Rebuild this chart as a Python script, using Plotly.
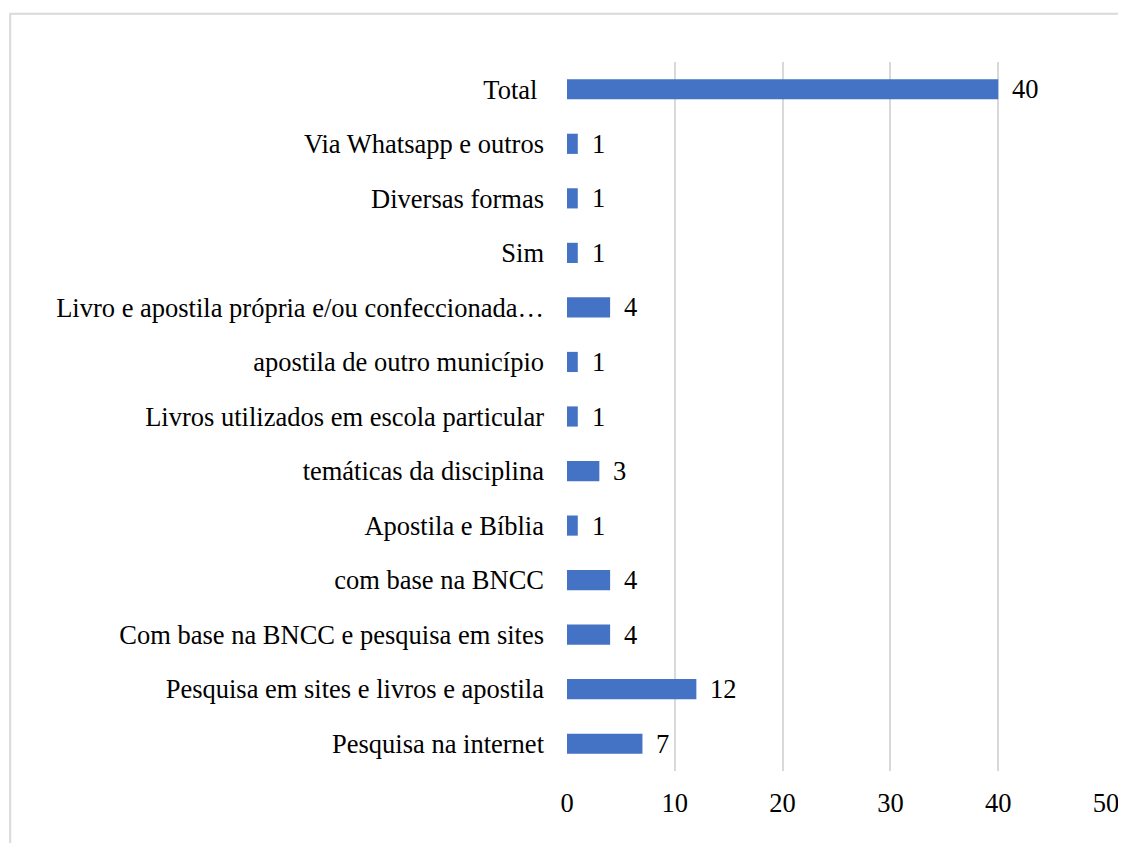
import plotly.graph_objects as go

# categories listed bottom to top, as drawn
categories = [
    "Pesquisa na internet",
    "Pesquisa em sites e livros e apostila",
    "Com base na BNCC e pesquisa em sites",
    "com base na BNCC",
    "Apostila e Bíblia",
    "temáticas da disciplina",
    "Livros utilizados em escola particular",
    "apostila de outro município",
    "Livro e apostila própria e/ou confeccionada…",
    "Sim",
    "Diversas formas",
    "Via Whatsapp e outros",
    "Total ",
]
values = [7, 12, 4, 4, 1, 3, 1, 1, 4, 1, 1, 1, 40]
x_ticks = [0, 10, 20, 30, 40, 50]

FONT = "Liberation Serif, Times New Roman, serif"
FSIZE = 26.5

fig = go.Figure()

fig.add_trace(go.Bar(
    x=values,
    y=categories,
    orientation='h',
    marker=dict(color='#4472C4', line=dict(width=0)),
    width=0.37,
    hoverinfo='x+y',
))

# value labels to the right of each bar
for cat, val in zip(categories, values):
    fig.add_annotation(
        x=val, y=cat,
        text=str(val),
        showarrow=False,
        xanchor='left',
        xshift=12,
        font=dict(family=FONT, size=FSIZE, color='#000000'),
    )

# light frame of the chart area
fig.add_shape(
    type='rect', xref='paper', yref='paper',
    x0=-1.033, x1=1.2, y0=-0.3, y1=1.068,
    line=dict(color='#d9d9d9', width=2),
    fillcolor='rgba(0,0,0,0)',
    layer='below',
)

fig.update_layout(
    width=1126,
    height=843,
    margin=dict(l=559, r=28, t=54, b=80),
    paper_bgcolor='white',
    plot_bgcolor='white',
    showlegend=False,
    font=dict(family=FONT, size=FSIZE, color='#000000'),
    bargap=0.63,
)

fig.update_xaxes(
    range=[0, 50],
    tickvals=x_ticks,
    showgrid=True,
    gridcolor='#d9d9d9',
    gridwidth=2,
    zeroline=False,
    showline=False,
    ticks='',
    tickfont=dict(family=FONT, size=FSIZE, color='#000000'),
    ticklabelstandoff=13,
)

fig.update_yaxes(
    showgrid=False,
    showline=False,
    zeroline=False,
    ticks='',
    tickfont=dict(family=FONT, size=FSIZE, color='#000000'),
    ticklabelstandoff=22,
)

fig.write_html("out.html")
